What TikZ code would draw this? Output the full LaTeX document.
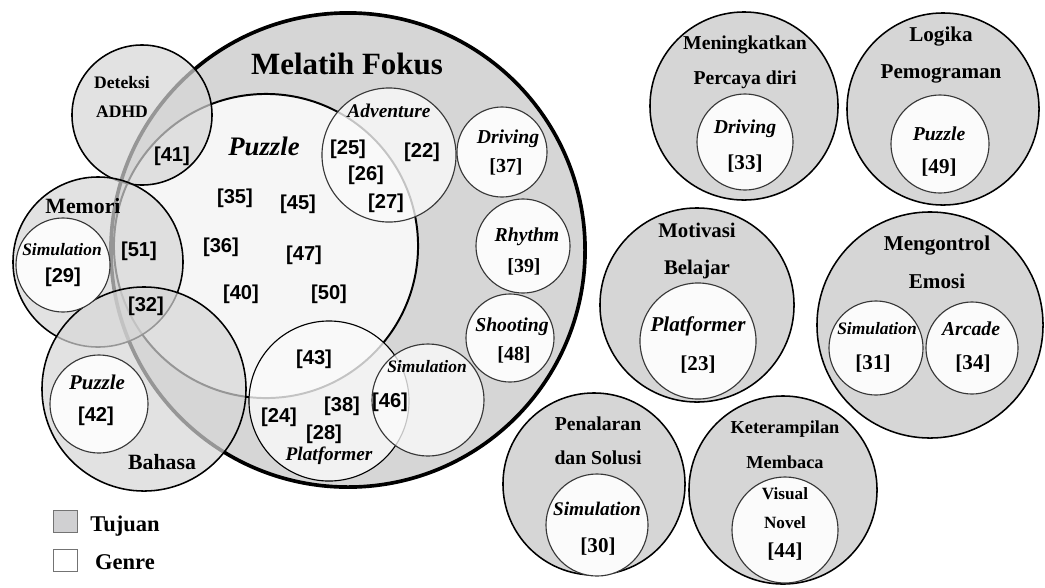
\documentclass[tikz,border=0pt]{standalone}
\usepackage{fontspec}
\setmainfont{Liberation Serif}
\newfontfamily\numfont{Liberation Sans}
\usepackage{xcolor}
\usetikzlibrary{positioning}
\definecolor{TJ}{RGB}{214,214,214}
\definecolor{GN}{RGB}{251,251,251}
\definecolor{PZ}{RGB}{246,246,246}
\definecolor{DG}{RGB}{55,55,55}
\definecolor{LG}{RGB}{208,208,210}

\begin{document}
\begin{tikzpicture}[
  x=0.025cm, y=-0.025cm,
  tuj/.style={circle, draw=black, line width=1.1pt, fill=TJ,
              inner sep=0pt, minimum size=#1*0.05cm},
  tujo/.style={tuj=#1, fill opacity=0.7},
  gen/.style={circle, draw=DG, line width=0.8pt, fill=GN,
              inner sep=0pt, minimum size=#1*0.05cm},
  geno/.style={gen=#1, fill opacity=0.78},
  lbl/.style={font=\fontsize{14}{25}\selectfont\bfseries,
              align=center, inner sep=0pt},
  glbl/.style={font=\fontsize{14}{25}\selectfont\bfseries\itshape,
               align=center, inner sep=0pt},
  ref/.style={font=\numfont\fontsize{14.3}{15}\selectfont\bfseries, inner sep=0pt},
  refs/.style={font=\fontsize{15}{15}\selectfont\bfseries, inner sep=0pt},
  legbox/.style={draw=DG!70, fill=#1, minimum width=0.6cm,
                 minimum height=0.55cm, inner sep=0pt}
]
\useasboundingbox (0,0) rectangle (1045,587);

% Melatih Fokus
\node[tuj=237, line width=2.6pt] (mel) at (348,250) {};
\node[gen=152, fill=PZ, draw=black, line width=1.4pt] (puz) at (266,246) {};
\node[gen=45] (drv) at (502,152) {};
\node[gen=47] (rhy) at (523,246) {};
\node[gen=44] (sho) at (510,338) {};
\node[geno=67] (adv) at (389,155) {};
\node[geno=80, draw=black] (plt) at (329,401) {};
\node[geno=56] (sim) at (428,400) {};

% overlapping goals
\node[tujo=70] (det) at (142,115) {};
\node[tujo=85] (mem) at (98,262) {};
\node[tujo=102] (bah) at (144,389) {};
\node[gen=47] (msim) at (63,265) {};
\node[gen=49] (bpuz) at (99,404) {};

\node[lbl, font=\fontsize{22}{22}\selectfont\bfseries] (t-mel) at (347,64) {Melatih Fokus};
\node[glbl, font=\fontsize{19}{19}\selectfont\bfseries\itshape] (t-puz) at (264,146) {Puzzle};
\node[ref] (r35) at (235,198) {[35]};
\node[ref] (r45) at (298,204) {[45]};
\node[ref] (r36) at (221,247) {[36]};
\node[ref] (r47) at (304,255) {[47]};
\node[ref] (r40) at (241,294) {[40]};
\node[ref] (r50) at (329,294) {[50]};
\node[glbl, font=\fontsize{13.8}{14}\selectfont\bfseries\itshape] (t-adv) at (389,111) {Adventure};
\node[ref] (r25) at (348,149) {[25]};
\node[ref] (r22) at (422,152) {[22]};
\node[ref] (r26) at (366,175) {[26]};
\node[ref] (r27) at (386,203) {[27]};
\node[glbl] (t-drv) at (508,139) {Driving};
\node[refs, font=\fontsize{14.2}{15}\selectfont\bfseries] (r37) at (506,167) {[37]};
\node[glbl] (t-rhy) at (527,237) {Rhythm};
\node[refs, font=\fontsize{14.2}{15}\selectfont\bfseries] (r39) at (524,267) {[39]};
\node[glbl] (t-sho) at (512,327) {Shooting};
\node[refs, font=\fontsize{14.2}{15}\selectfont\bfseries] (r48) at (514,355) {[48]};
\node[ref] (r43) at (314,359) {[43]};
\node[glbl, font=\fontsize{12.4}{13}\selectfont\bfseries\itshape] (t-sim) at (427,367) {Simulation};
\node[ref] (r46) at (390,402) {[46]};
\node[ref] (r38) at (342,406) {[38]};
\node[ref] (r24) at (279,417) {[24]};
\node[ref] (r28) at (324,434) {[28]};
\node[glbl, font=\fontsize{13.7}{14}\selectfont\bfseries\itshape] (t-plt) at (329,456) {Platformer};

\node[lbl, font=\fontsize{12.5}{20.6}\selectfont\bfseries] (t-det) at (122,97) {Deteksi\\ADHD};
\node[ref] (r41) at (172,156) {[41]};
\node[lbl, font=\fontsize{15.5}{16}\selectfont\bfseries] (t-mem) at (83,206) {Memori};
\node[glbl, font=\fontsize{12.4}{13}\selectfont\bfseries\itshape] (t-msim) at (62,250) {Simulation};
\node[ref] (r29) at (63,277) {[29]};
\node[ref] (r51) at (139,251) {[51]};
\node[ref] (r32) at (146,306) {[32]};
\node[glbl, font=\fontsize{14.9}{15}\selectfont\bfseries\itshape] (t-bpuz) at (97,382) {Puzzle};
\node[ref] (r42) at (96,416) {[42]};
\node[lbl, font=\fontsize{15.5}{16}\selectfont\bfseries] (t-bah) at (162,462) {Bahasa};

% other goals
\node[tuj=94] (pd) at (744,106) {};
\node[gen=48] (pdg) at (745,142) {};
\node[lbl] (t-pd) at (745,62) {Meningkatkan\\Percaya diri};
\node[glbl] (t-pdg) at (745,129) {Driving};
\node[refs] (r33) at (745,164) {[33]};

\node[tuj=96] (lp) at (943,109) {};
\node[gen=49] (lpg) at (940,144) {};
\node[lbl, font=\fontsize{15}{26.3}\selectfont\bfseries] (t-lp) at (941,55) {Logika\\Pemograman};
\node[glbl] (t-lpg) at (939,134) {Puzzle};
\node[refs] (r49) at (939,168) {[49]};

\node[tuj=97] (mb) at (697,305) {};
\node[gen=58] (mbg) at (698,341) {};
\node[lbl, font=\fontsize{14.8}{26.3}\selectfont\bfseries] (t-mb) at (697,251) {Motivasi\\Belajar};
\node[glbl, font=\fontsize{15}{15}\selectfont\bfseries\itshape] (t-mbg) at (698,326) {Platformer};
\node[refs] (r23) at (698,365) {[23]};

\node[tuj=113] (me) at (930,325) {};
\node[gen=47] (meg1) at (876,348) {};
\node[gen=46] (meg2) at (972,348) {};
\node[lbl, font=\fontsize{15}{27}\selectfont\bfseries] (t-me) at (937,262) {Mengontrol\\Emosi};
\node[glbl, font=\fontsize{12.4}{13}\selectfont\bfseries\itshape] (t-meg1) at (877,329) {Simulation};
\node[glbl] (t-meg2) at (971,329) {Arcade};
\node[refs] (r31) at (873,364) {[31]};
\node[refs] (r34) at (973,364) {[34]};

\node[tuj=91] (ps) at (594,484) {};
\node[gen=51] (psg) at (597,525) {};
\node[lbl, font=\fontsize{14}{24.2}\selectfont\bfseries] (t-ps) at (598,441) {Penalaran\\dan Solusi};
\node[glbl, font=\fontsize{13.7}{14}\selectfont\bfseries\itshape] (t-psg) at (597,509) {Simulation};
\node[refs] (r30) at (598,547) {[30]};

\node[tuj=94] (km) at (783,490) {};
\node[gen=53] (kmg) at (785,530) {};
\node[lbl, font=\fontsize{13}{25}\selectfont\bfseries] (t-km) at (785,445) {Keterampilan\\Membaca};
\node[lbl, font=\fontsize{12.2}{20.6}\selectfont\bfseries] (t-kmg) at (785,508) {Visual\\Novel};
\node[refs] (r44) at (785,552) {[44]};

% legend
\node[legbox=LG] (lt) at (65,521) {};
\node[legbox=white] (lg) at (65,560) {};
\node[lbl, font=\fontsize{16}{16}\selectfont\bfseries] (t-lt) at (125,526) {Tujuan};
\node[lbl, font=\fontsize{16}{16}\selectfont\bfseries] (t-lg) at (125,562) {Genre};
\end{tikzpicture}
\end{document}
